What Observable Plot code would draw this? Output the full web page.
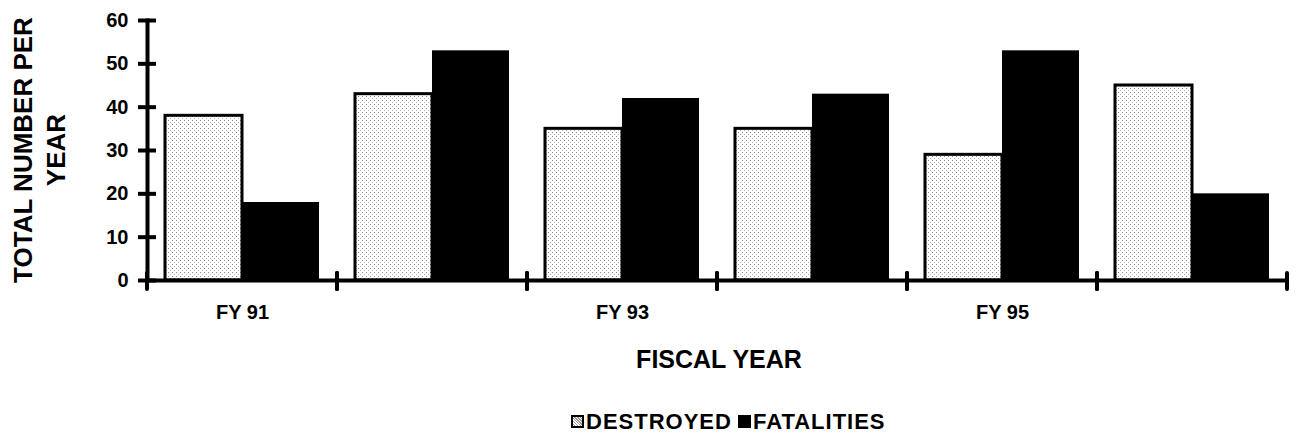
<!DOCTYPE html>
<html>
<head>
<meta charset="utf-8">
<script src="https://cdn.jsdelivr.net/npm/d3@7"></script>
<script src="https://cdn.jsdelivr.net/npm/@observablehq/plot@0.6"></script>
<style>
  html, body { margin: 0; padding: 0; background: #fff; }
  body { font-family: "Liberation Sans", Arial, Helvetica, sans-serif; font-weight: bold; color: #000; }
  #wrap { position: relative; width: 1297px; height: 440px; overflow: hidden; }
  #chart { position: absolute; left: 0; top: 0; }
  .ytitle {
    position: absolute; left: 40px; top: 150px;
    transform: translate(-50%, -50%) rotate(-90deg);
    font-size: 26px; line-height: 33px; text-align: center; white-space: nowrap;
  }
  .xtitle {
    position: absolute; left: 719px; top: 347px; transform: translateX(-50%);
    font-size: 25px; line-height: 25px; white-space: nowrap;
  }
  .legend {
    position: absolute; left: 571px; top: 411px;
    display: flex; align-items: center; font-size: 22px; line-height: 22px; letter-spacing: 1px; white-space: nowrap;
  }
  .sw { width: 9px; height: 9px; display: inline-block; margin-right: 2px; margin-bottom: 1px; }
  .sw.d { border: 2px solid #000; background: repeating-linear-gradient(45deg, #fff 0 1px, #9a9a9a 1px 2px); }
  .sw.f { background: #000; border: 2px solid #000; margin-left: 6px; }
</style>
</head>
<body>
<svg width="0" height="0" style="position:absolute">
  <defs>
    <pattern id="stipple" width="4" height="4" patternUnits="userSpaceOnUse">
      <rect width="4" height="4" fill="#ffffff"></rect>
      <rect x="0" y="0" width="1" height="1" fill="#8a8a8a"></rect>
      <rect x="2" y="2" width="1" height="1" fill="#b0b0b0"></rect>
    </pattern>
  </defs>
</svg>
<div id="wrap">
  <div id="chart"></div>
  <div class="ytitle">TOTAL NUMBER PER<br>YEAR</div>
  <div class="xtitle">FISCAL YEAR</div>
  <div class="legend"><span class="sw d"></span>DESTROYED<span class="sw f"></span>FATALITIES</div>
</div>
<script>
// ---- data ----
const years = ["FY 91", "FY 92", "FY 93", "FY 94", "FY 95", "FY 96"];
const yearTickLabels = ["FY 91", "", "FY 93", "", "FY 95", ""];
const seriesNames = ["DESTROYED", "FATALITIES"];
const destroyed = [38, 43, 35, 35, 29, 45];
const fatalities = [18, 53, 42, 43, 53, 20];
const yTicks = [0, 10, 20, 30, 40, 50, 60];

const destroyedRows = years.map((year, i) => ({year, series: seriesNames[0], value: destroyed[i]}));
const fatalityRows = years.map((year, i) => ({year, series: seriesNames[1], value: fatalities[i]}));

// group-boundary ticks drawn on the x axis, from the library's scales
function boundaryTicks(index, scales) {
  const [a, b] = scales.x.range();
  const y0 = scales.y(0);
  const g = d3.create("svg:g");
  for (const x of [a, b]) {
    g.append("line")
      .attr("x1", x).attr("x2", x)
      .attr("y1", y0 - 7).attr("y2", y0 + 9)
      .attr("stroke", "#000").attr("stroke-width", 4).attr("stroke-linecap", "round");
  }
  return g.node();
}

const chart = Plot.plot({
  width: 1297,
  height: 335,
  marginLeft: 147,
  marginRight: 10,
  marginTop: 20,
  marginBottom: 55,
  style: {fontFamily: '"Liberation Sans", Arial, Helvetica, sans-serif', fontWeight: "bold", color: "#000", background: "transparent"},
  fx: {domain: years, padding: 0},
  x: {domain: seriesNames, paddingInner: 0, paddingOuter: 0.23, axis: null},
  y: {domain: [0, 60]},
  marks: [
    Plot.barY(destroyedRows, {fx: "year", x: "series", y: "value", fill: "url(#stipple)", stroke: "#000", strokeWidth: 3}),
    Plot.barY(fatalityRows, {fx: "year", x: "series", y: "value", fill: "#000"}),
    Plot.ruleY([0], {stroke: "#000", strokeWidth: 4}),
    boundaryTicks,
    Plot.frame({anchor: "left", facetAnchor: "left", stroke: "#000", strokeWidth: 4}),
    Plot.axisY({ticks: yTicks, tickSize: 9, tickFormat: () => "", label: null, strokeWidth: 4}),
    Plot.axisY({ticks: yTicks, tickSize: -9, tickFormat: () => "", label: null, strokeWidth: 4}),
    Plot.axisY({ticks: yTicks, tickSize: 0, tickPadding: 19, label: null, fontSize: 20, fontWeight: "bold"}),
    Plot.axisFx({anchor: "bottom", tickFormat: d => yearTickLabels[years.indexOf(d)], tickSize: 0, tickPadding: 24, label: null, fontSize: 20, fontWeight: "bold"})
  ]
});
document.getElementById("chart").appendChild(chart);
</script>
</body>
</html>
